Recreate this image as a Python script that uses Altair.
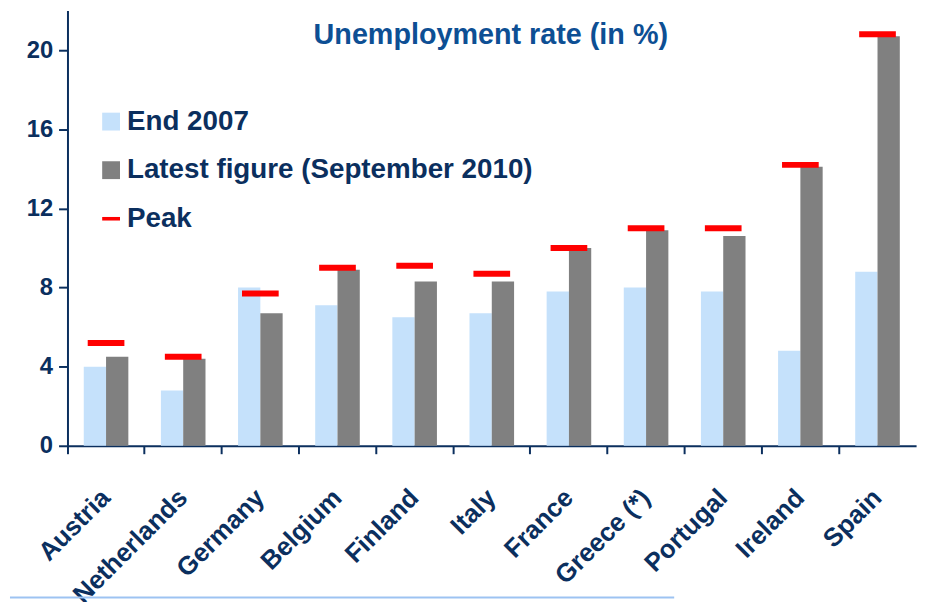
import altair as alt
import pandas as pd

countries = ["Austria", "Netherlands", "Germany", "Belgium", "Finland", "Italy",
             "France", "Greece (*)", "Portugal", "Ireland", "Spain"]
end_2007 = [4.0, 2.8, 8.0, 7.1, 6.5, 6.7, 7.8, 8.0, 7.8, 4.8, 8.8]
latest_2010 = [4.5, 4.4, 6.7, 8.9, 8.3, 8.3, 10.0, 10.9, 10.6, 14.1, 20.7]
peak = [5.2, 4.5, 7.7, 9.0, 9.1, 8.7, 10.0, 11.0, 11.0, 14.2, 20.8]

series_names = ["End 2007", "Latest figure (September 2010)", "Peak"]
series_colors = ["#C5E1FB", "#808080", "#FF0000"]
series_shapes = ["square", "square", "M-1,-0.2H1V0.2H-1Z"]
y_ticks = [0, 4, 8, 12, 16, 20]
title_text = "Unemployment rate (in %)"

NAVY = "#0B2F5E"
TITLE_BLUE = "#0D4F94"
FONT = "Liberation Sans"

bars_df = pd.DataFrame({
    "country": countries * 2,
    "series": [series_names[0]] * len(countries) + [series_names[1]] * len(countries),
    "value": end_2007 + latest_2010,
})
peak_df = pd.DataFrame({"country": countries, "value": peak})
legend_df = pd.DataFrame({"country": [countries[0]] * 3, "series": series_names,
                          "value": [end_2007[0], latest_2010[0], peak[0]]})

x_enc = alt.X(
    "country:N", sort=countries, title=None,
    scale=alt.Scale(paddingInner=0, paddingOuter=0),
    axis=alt.Axis(
        bandPosition=0, labelAngle=-45, labelAlign="right", labelBaseline="middle",
        labelFontSize=26, labelFontWeight="bold",
        labelColor=NAVY, labelFont=FONT, labelPadding=40,
        tickSize=8, tickColor=NAVY, tickWidth=2,
        domainColor=NAVY, domainWidth=2, labelOverlap=False, labelBound=False,
    ),
)
y_scale = alt.Scale(domain=[0, 22], nice=False)
y_enc = alt.Y("value:Q", scale=y_scale, title=None,
              axis=alt.Axis(values=y_ticks, grid=False, labelFontSize=24,
                            labelFontWeight="bold", labelColor=NAVY, labelFont=FONT,
                            tickSize=9, tickColor=NAVY, tickWidth=2,
                            domainColor=NAVY, domainWidth=2, labelPadding=6))

legend = alt.Legend(
    title=None, orient="none", legendX=30, legendY=98,
    labelFontSize=28, labelFontWeight="bold", labelColor=NAVY, labelFont=FONT,
    symbolSize=324, symbolStrokeWidth=0, symbolOpacity=1, rowPadding=21,
    labelOffset=2, labelLimit=600, padding=0,
)
color_scale = alt.Scale(domain=series_names, range=series_colors)

bars = alt.Chart(bars_df).mark_bar().encode(
    x=x_enc,
    xOffset=alt.XOffset("series:N", sort=series_names[:2],
                        scale=alt.Scale(paddingInner=0, paddingOuter=0.73)),
    y=y_enc,
    color=alt.Color("series:N", scale=color_scale, legend=legend),
)

legend_proxy = alt.Chart(legend_df).mark_point(filled=True, opacity=0).encode(
    x=alt.X("country:N", sort=countries),
    y=alt.Y("value:Q", scale=y_scale),
    color=alt.Color("series:N", scale=color_scale, legend=legend),
    shape=alt.Shape("series:N", scale=alt.Scale(domain=series_names, range=series_shapes),
                    legend=legend),
)

peaks = alt.Chart(peak_df).mark_tick(size=37, thickness=6, color="#FF0000",
                                     opacity=1).encode(
    x=alt.X("country:N", sort=countries),
    y=alt.Y("value:Q", scale=y_scale),
)

title = alt.Chart(pd.DataFrame({"t": [title_text]})).mark_text(
    font=FONT, fontSize=29, fontWeight="bold", color=TITLE_BLUE, baseline="middle"
).encode(text="t:N", x=alt.value(427), y=alt.value(25))

bottom_line = alt.Chart(pd.DataFrame({"a": [0]})).mark_rule(
    color="#9DC3F2", strokeWidth=2
).encode(x=alt.value(-58), x2=alt.value(612), y=alt.value(592))

chart = alt.layer(bars, legend_proxy, peaks, title, bottom_line).properties(
    width=856, height=439,
    autosize=alt.AutoSizeParams(type="none"),
    padding={"left": 60, "top": 0, "right": 10, "bottom": 155},
).configure_view(stroke=None).configure_axis(labelFont=FONT)

chart.save("out.html", embed_options={"renderer": "svg", "actions": False})
